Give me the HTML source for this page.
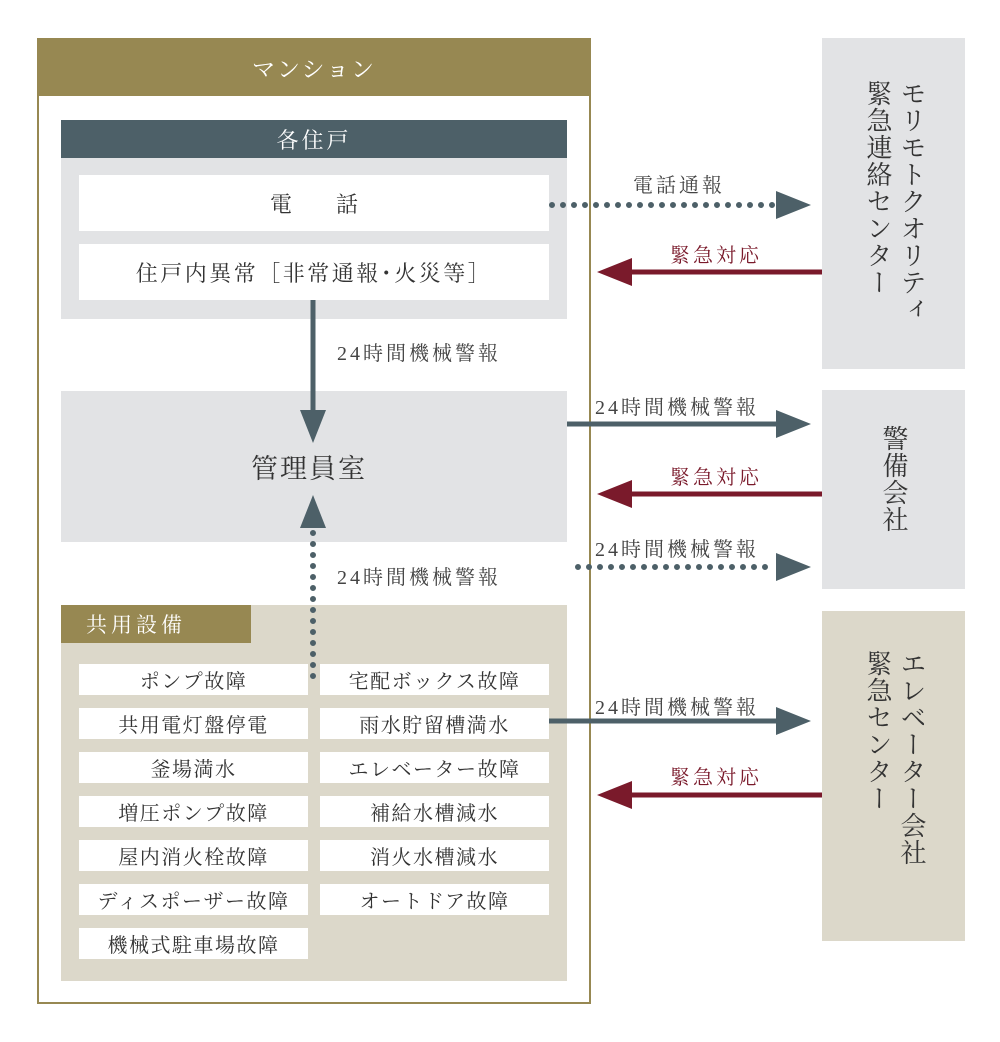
<!DOCTYPE html>
<html><head><meta charset="utf-8"><style>
body{margin:0;width:1000px;height:1042px;background:#fff;position:relative;overflow:hidden;font-family:"Liberation Serif","Noto Serif CJK SC","Noto Serif CJK JP",serif;color:#333}
div{position:absolute;box-sizing:border-box}
.c{display:flex;align-items:center;justify-content:center}
.w{background:#fff}
.it{background:#fff;height:31px;width:229px;font-size:20px;letter-spacing:1.5px;display:flex;align-items:center;justify-content:center}
.lb{font-size:20px;letter-spacing:3px;color:#444;white-space:nowrap}
.mr{font-size:20px;letter-spacing:3px;color:#7a1a2b;white-space:nowrap}
.v{writing-mode:vertical-rl;font-size:26px;letter-spacing:1px;color:#333;line-height:34px}
</style></head><body>
<div style="left:37px;top:38px;width:554px;height:966px;border:2px solid #978852"></div>
<div class="c" style="left:37px;top:38px;width:554px;height:58px;background:#978852;color:#fff;font-size:23px;letter-spacing:2px">マンション</div>

<div class="c" style="left:61px;top:120px;width:506px;height:38px;background:#4d6068;color:#fff;font-size:22px;letter-spacing:3px">各住戸</div>
<div style="left:61px;top:158px;width:506px;height:161px;background:#e2e3e5"></div>
<div class="c w" style="left:79px;top:175px;width:470px;height:56px;font-size:22px">電&emsp;&emsp;話</div>
<div class="c w" style="left:79px;top:244px;width:470px;height:56px;font-size:22px;letter-spacing:2.5px">住戸内異常［非常通報･火災等］</div>

<div class="c" style="left:61px;top:391px;width:506px;height:151px;background:#e2e3e5;font-size:27px;letter-spacing:2px;padding-right:10px">管理員室</div>

<div style="left:61px;top:605px;width:506px;height:376px;background:#dcd8ca"></div>
<div class="c" style="left:61px;top:605px;width:190px;height:38px;background:#978852;color:#fff;font-size:21px;letter-spacing:4px;padding-right:40px">共用設備</div>

<div class="it" style="left:79px;top:664px">ポンプ故障</div>
<div class="it" style="left:320px;top:664px">宅配ボックス故障</div>
<div class="it" style="left:79px;top:708px">共用電灯盤停電</div>
<div class="it" style="left:320px;top:708px">雨水貯留槽満水</div>
<div class="it" style="left:79px;top:752px">釜場満水</div>
<div class="it" style="left:320px;top:752px">エレベーター故障</div>
<div class="it" style="left:79px;top:796px">増圧ポンプ故障</div>
<div class="it" style="left:320px;top:796px">補給水槽減水</div>
<div class="it" style="left:79px;top:840px">屋内消火栓故障</div>
<div class="it" style="left:320px;top:840px">消火水槽減水</div>
<div class="it" style="left:79px;top:884px">ディスポーザー故障</div>
<div class="it" style="left:320px;top:884px">オートドア故障</div>
<div class="it" style="left:79px;top:928px">機械式駐車場故障</div>

<div style="left:822px;top:38px;width:143px;height:331px;background:#e2e3e5"></div>
<div class="v" style="left:860px;top:80px;height:280px">モリモトクオリティ<br>緊急連絡センター</div>
<div style="left:822px;top:390px;width:143px;height:199px;background:#e2e3e5"></div>
<div class="v" style="left:876px;top:425px;height:150px">警備会社</div>
<div style="left:822px;top:611px;width:143px;height:330px;background:#dcd8ca"></div>
<div class="v" style="left:860px;top:650px;height:280px">エレベーター会社<br>緊急センター</div>

<div class="lb" style="left:337px;top:337px">24時間機械警報</div>
<div class="lb" style="left:337px;top:561px">24時間機械警報</div>
<div class="lb" style="left:633px;top:169px">電話通報</div>
<div class="mr" style="left:670px;top:239px">緊急対応</div>
<div class="lb" style="left:595px;top:391px">24時間機械警報</div>
<div class="mr" style="left:670px;top:461px">緊急対応</div>
<div class="lb" style="left:595px;top:533px">24時間機械警報</div>
<div class="lb" style="left:595px;top:691px">24時間機械警報</div>
<div class="mr" style="left:670px;top:761px">緊急対応</div>

<svg width="1000" height="1042" style="position:absolute;left:0;top:0">
<g stroke="#4d6068" stroke-width="5" fill="none">
<line x1="313" y1="300" x2="313" y2="415"/>
<line x1="567" y1="424" x2="785" y2="424"/>
<line x1="549" y1="721" x2="785" y2="721"/>
</g>
<g stroke="#4d6068" stroke-width="6" stroke-linecap="round" stroke-dasharray="0 11" fill="none">
<line x1="552" y1="205" x2="775" y2="205"/>
<line x1="578" y1="567" x2="775" y2="567"/>
<line x1="313" y1="676" x2="313" y2="530"/>
</g>
<g fill="#4d6068">
<polygon points="300,410 326,410 313,443"/>
<polygon points="300,528 326,528 313,495"/>
<polygon points="776,191 811,205 776,219"/>
<polygon points="776,410 811,424 776,438"/>
<polygon points="776,553 811,567 776,581"/>
<polygon points="776,707 811,721 776,735"/>
</g>
<g stroke="#7a1a2b" stroke-width="5">
<line x1="822" y1="272" x2="620" y2="272"/>
<line x1="822" y1="494" x2="620" y2="494"/>
<line x1="822" y1="795" x2="620" y2="795"/>
</g>
<g fill="#7a1a2b">
<polygon points="632,258 597,272 632,286"/>
<polygon points="632,480 597,494 632,508"/>
<polygon points="632,781 597,795 632,809"/>
</g>
</svg>
</body></html>
